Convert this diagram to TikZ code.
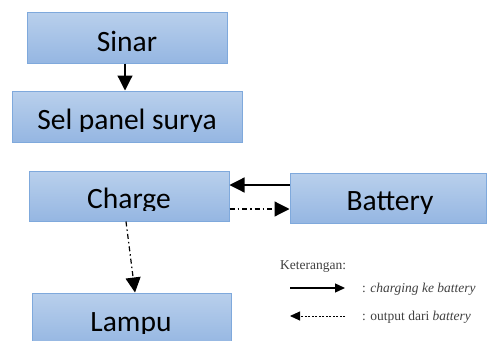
\documentclass[tikz,border=0pt]{standalone}
\usepackage{fontspec}
\setmainfont{Carlito}
\newfontfamily\legendfont{Liberation Serif}
\usetikzlibrary{arrows.meta}
\definecolor{boxtop}{HTML}{B9D0EC}
\definecolor{boxbot}{HTML}{95B6E2}
\definecolor{boxline}{HTML}{7FA9DC}
\tikzset{
  box/.style={draw=boxline, line width=1pt, top color=boxtop, bottom color=boxbot, inner sep=0pt},
  boxtext/.style={anchor=base, inner sep=0pt, font=\fontsize{29.5}{32}\selectfont},
  conn/.style={line width=1.2pt, -{Triangle[width=15pt,length=15pt]}},
  dashdot/.style={dash pattern=on 5pt off 3pt on 1.5pt off 3pt},
  legtext/.style={anchor=west, inner sep=0pt, font=\legendfont\fontsize{13.5}{15}\selectfont, text=black!75},
}
\begin{document}
\begin{tikzpicture}[x=1pt,y=-1pt]
\useasboundingbox[fill=white] (0,0) rectangle (487,340);
% boxes
\node[box, minimum width=200pt, minimum height=51pt] (sinar) at (127,37.5) {};
\node[box, minimum width=230pt, minimum height=51pt] (sel) at (127,116.5) {};
\node[box, minimum width=200pt, minimum height=50pt] (charge) at (129,196) {};
\node[box, minimum width=196pt, minimum height=50pt] (battery) at (388,198) {};
\node[box, minimum width=199pt, minimum height=52pt] (lampu) at (131.5,319) {};
% texts (clipped at their bottom as in the picture)
\node[boxtext] (tsinar) at (127,51) {Sinar};
\begin{scope}
\clip (0,90) rectangle (487,131);
\node[boxtext] (tsel) at (127,129) {Sel panel surya};
\end{scope}
\begin{scope}
\clip (0,170) rectangle (240,210);
\node[boxtext] (tcharge) at (129,208) {Charge};
\end{scope}
\begin{scope}
\clip (280,170) rectangle (487,213);
\node[boxtext] (tbattery) at (390,210) {Battery};
\end{scope}
\begin{scope}
\clip (0,290) rectangle (240,333);
\node[boxtext] (tlampu) at (131,331) {Lampu};
\end{scope}
% connectors
\draw[conn] (sinar.south -| 125,0) -- (sel.north -| 125,0);
\draw[conn] (battery.west |- 0,185) -- (charge.east |- 0,185);
\draw[conn, dashdot] (charge.east |- 0,209) -- (battery.west |- 0,209);
\draw[conn, dashdot] (charge.south -| 126,0) -- (lampu.north -| 135,0);
% legend
\node[legtext] (ket) at (280,267) {Keterangan:};
\coordinate (l1a) at (290,288);
\coordinate (l1b) at (345,288);
\coordinate (l2a) at (345,316);
\coordinate (l2b) at (290,316);
\draw[line width=1.3pt, -{Triangle[width=9pt,length=10pt]}] (l1a) -- (l1b);
\draw[line width=0.9pt, dash pattern=on 2pt off 1.5pt, -{Triangle[width=9pt,length=10pt]}] (l2a) -- (l2b);
\node[legtext] (lg1) at (362,289) {: \textit{charging ke battery}};
\node[legtext] (lg2) at (362,317) {: output dari \textit{battery}};
\end{tikzpicture}
\end{document}
